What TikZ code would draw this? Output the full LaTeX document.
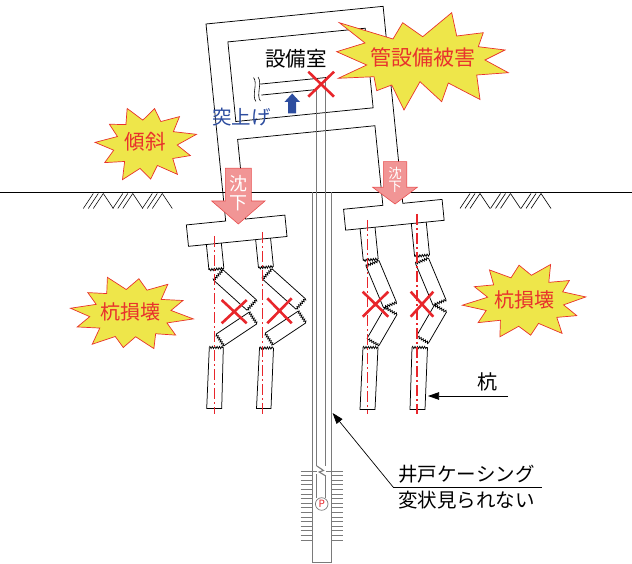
\documentclass[tikz,border=0pt]{standalone}
\usepackage{fontspec}
\setmainfont{Noto Sans CJK JP}
\usetikzlibrary{arrows.meta, decorations.pathmorphing}

\definecolor{burstfill}{HTML}{EEE64A}
\definecolor{burstred}{HTML}{E8322C}
\definecolor{xred}{HTML}{E8262B}
\definecolor{pushblue}{HTML}{2D4D9F}
\definecolor{sinkfill}{HTML}{F19595}
\definecolor{sinkline}{HTML}{E85050}
\definecolor{casegray}{HTML}{7A7A7A}

% a broken pile piece: zigzag ends #1-#2 and #3-#4, straight sides
\newcommand\pilepiece[4]{%
  \draw[outline, brk] #1 -- #2;
  \draw[outline] #2 -- #3;
  \draw[outline, brk] #3 -- #4;
  \draw[outline] #4 -- #1;}
% lower pile segment: zigzag top #1-#2, straight sides and foot
\newcommand\pilefoot[4]{%
  \draw[outline, brk] #1 -- #2;
  \draw[outline] #2 -- #3 -- #4 -- #1;}
% soil hatching below the ground line
\newcommand\soilmarks[2]{%
  \foreach \g in {0,1,2}{%
    \foreach \k in {0,5,10}
      \draw[outline, line width=0.6pt] ({#1+\g*#2+\k},208.5) -- ++(10,-15);
    \draw[outline, line width=0.6pt] ({#1+\g*#2+20},193.5) -- ++(10,15);
  }}
% spiky burst: centre, x radius, y radius, number of points,
% start angle, last sample index, radius factors (tip, notch, tip, ...)
\newcommand\burstpoly[7]{%
  \draw[burstst, shift={#1}] plot[samples at={0,...,#6}, variable=\i]
    ({#2*cos(#5+\i*180/#4)*{#7}[\i]}, {#3*sin(#5+\i*180/#4)*{#7}[\i]}) -- cycle;}

\begin{document}
\begin{tikzpicture}[x=1pt, y=-1pt,
  outline/.style={line width=0.75pt, black},
  brk/.style={decorate, decoration={zigzag, segment length=2.4pt, amplitude=1.1pt}},
  axisline/.style={xred, line width=1.3pt, dash pattern=on 11pt off 3pt on 2pt off 3pt},
  cross/.style={xred, line width=2.6pt},
  burstst/.style={fill=burstfill, draw=burstred, line width=0.7pt, line join=miter},
  bursttxt/.style={text=burstred, inner sep=0pt, font=\fontsize{21}{21}\selectfont},
  sinkarrow/.style={fill=sinkfill, draw=sinkline, line width=0.6pt},
  txt/.style={inner sep=0pt, font=\fontsize{19.5}{19.5}\selectfont},
  leader/.style={line width=0.7pt, -{Triangle[length=11pt,width=7.5pt]}},
  casing/.style={casegray, line width=1.1pt},
]
\useasboundingbox (0,0) rectangle (632,564);

% ground
\draw[outline] (0,192) -- (632,192);
\soilmarks{83.3}{29.5}
\soilmarks{460}{30.5}

% tilted building with its footings
\begin{scope}[shift={(206,24)}, rotate=5.7]
  \draw[outline] (20,118) -- (20,198) -- (59.5,198) -- (59.5,219.5) -- (-39.5,219.5)
    -- (-39.5,198) -- (0,198) -- (0,0) -- (178,0) -- (178,198) -- (217.5,198)
    -- (217.5,219) -- (118.5,219) -- (118.5,198) -- (158,198) -- (158,118) -- cycle;
  \draw[outline] (20,20) rectangle (158,100);
  % pipe in the equipment room
  \draw[outline] (48,65.2) -- (113.9,65.2);
  \draw[outline] (48,76.2) -- (103.7,76.2);
  \foreach \d in {0,4.5}
    \draw[outline, line width=0.6pt] ({42+\d},58) .. controls ({46+\d},64) and ({38+\d},76) .. ({42+\d},82);
  % pile heads still fixed to the footings
  \foreach \c/\t/\b in {-14/219.5/245, 35.5/219.5/248, 140.5/219/251, 192/219/252}{
    \draw[outline] ({\c-7.5},\t) -- ({\c-7.5},\b);
    \draw[outline] ({\c+7.5},\t) -- ({\c+7.5},\b);
    \draw[outline, brk] ({\c-7.5},\b) -- ({\c+7.5},\b);
  }
\end{scope}

% broken piles, left footing
\pilepiece{(213.6,280.2)}{(223,269.8)}{(256.4,299.8)}{(247,310.2)}
\pilepiece{(249.1,312.2)}{(256.9,323.8)}{(223.9,345.8)}{(216.1,334.2)}
\pilefoot{(209.3,347.5)}{(223.3,347.5)}{(221.7,408.5)}{(206.7,408.5)}
\begin{scope}[shift={(49,-1)}]
\pilepiece{(213.6,280.2)}{(223,269.8)}{(256.4,299.8)}{(247,310.2)}
\pilepiece{(249.1,312.2)}{(256.9,323.8)}{(223.9,345.8)}{(216.1,334.2)}
\end{scope}
\pilefoot{(259.5,348)}{(273.5,348)}{(271,408.5)}{(256.5,408.5)}

% broken piles, right footing
\pilepiece{(366,266)}{(379,260.6)}{(396.5,302.3)}{(383.5,307.7)}
\pilepiece{(385,307.5)}{(397,314.5)}{(379,345.5)}{(367,338.5)}
\pilefoot{(363,347.5)}{(378,347.5)}{(375,409.5)}{(360,409.5)}
\begin{scope}[shift={(49.5,-2.5)}]
\pilepiece{(366,266)}{(379,260.6)}{(396.5,302.3)}{(383.5,307.7)}
\pilepiece{(385,307.5)}{(397,314.5)}{(379,345.5)}{(367,338.5)}
\end{scope}
\pilefoot{(412,347.5)}{(427.5,347.5)}{(425,409.5)}{(410,409.5)}

% original pile axes
\draw[axisline] (214.3,236) -- (214.3,414);
\draw[axisline] (262.8,232) -- (262.8,414);
\draw[axisline] (367.3,220) -- (367.3,414);
\draw[axisline] (417,214) -- (417,414);

% well casing and riser pipe
\draw[casing] (325.8,77.6) -- (325.8,466);
\draw[casing] (316.8,89.5) -- (316.8,466);
\draw[casing] (316.8,466) -- (323.5,470.5) -- (319.2,472) -- (325.8,476);
\draw[casing] (316.8,474) -- (316.8,498);
\draw[casing] (325.8,476) -- (325.8,498);
\draw[casing] (312.8,192) -- (312.8,562.5) -- (331.8,562.5) -- (331.8,192);
\draw[casing, line width=0.8pt] (300.7,471) -- (316.8,471) (326,471) -- (343.3,471);
\foreach \i in {1,...,15}{
  \draw[casing, line width=0.8pt] (300.7,{471+\i*4.6}) -- (312.8,{471+\i*4.6});
  \draw[casing, line width=0.8pt] (331.8,{471+\i*4.6}) -- (343.3,{471+\i*4.6});
}
\node[circle, draw=casegray, fill=white, line width=0.7pt, inner sep=0pt, minimum size=12.6pt,
      text=xred, font=\fontsize{10}{10}\selectfont] (pump) at (321.7,504) {P};

% damage marks
\draw[cross] (308.3,71.7) -- (334,96.7) (308.3,96.7) -- (334,71.7);
\draw[cross] (221.7,300) -- (246.7,323.3) (221.7,323.3) -- (246.7,300);
\draw[cross] (267.3,298.3) -- (291.7,323.3) (267.3,323.3) -- (291.7,298.3);
\draw[cross] (362.7,291.7) -- (388.3,316.7) (362.7,316.7) -- (388.3,291.7);
\draw[cross] (410.7,291.7) -- (433.3,316.7) (410.7,316.7) -- (433.3,291.7);

% settlement arrows
\draw[sinkarrow] (225.3,168.3) -- (251.3,168.3) -- (251.3,201) -- (265,201) -- (238.3,224)
  -- (211.7,201) -- (225.3,201) -- cycle;
\node[text=white, inner sep=0pt, font=\fontsize{18}{18}\selectfont] (sinkLa) at (238.3,183.3) {沈};
\node[text=white, inner sep=0pt, font=\fontsize{18}{18}\selectfont] (sinkLb) at (238.3,203) {下};
\draw[sinkarrow] (383.3,161.7) -- (406.7,161.7) -- (406.7,187.3) -- (417.3,187.3) -- (395,204)
  -- (372.7,187.3) -- (383.3,187.3) -- cycle;
\node[text=white, inner sep=0pt, font=\fontsize{13.5}{13.5}\selectfont] (sinkRa) at (395,173.5) {沈};
\node[text=white, inner sep=0pt, font=\fontsize{13.5}{13.5}\selectfont] (sinkRb) at (395,186.5) {下};

% upheaval arrow
\fill[pushblue] (292.2,93.5) -- (300,102) -- (296.2,102) -- (296.2,113.5) -- (288.2,113.5)
  -- (288.2,102) -- (284.4,102) -- cycle;
\node[txt, text=pushblue] (pushTxt) at (241.7,116.7) {突上げ};
\node[txt, font=\fontsize{20.5}{20.5}\selectfont] (roomTxt) at (296,59.2) {設備室};

% damage bursts
\draw[burstst] (339.3,22.7) -- (393,39) -- (402.7,22.7) -- (422.7,36.7) -- (451.7,12.7)
  -- (456.7,36) -- (483.3,32.7) -- (478.3,46.7) -- (505,50) -- (485,60) -- (508.3,72.7)
  -- (476.7,75) -- (480,99.5) -- (448.3,83) -- (441.7,101.7) -- (420,81.7) -- (404,110)
  -- (391.7,85) -- (376.7,90.7) -- (374,76.7) -- (338.3,78.3) -- (366.7,65) -- (336.7,51.7)
  -- (365,43) -- cycle;
\node[bursttxt] (burstPipeTxt) at (422.5,58) {管設備被害};
\burstpoly{(146,144)}{52}{40}{11}{-14}{21}{1.0,.6,.9,.63,.97,.58,.88,.62,1.0,.6,.92,.64,.98,.58,.86,.62,.96,.6,.9,.63,.94,.61}
\node[bursttxt, font=\fontsize{20.5}{20.5}\selectfont] (burstTiltTxt) at (145,142) {傾斜};
\burstpoly{(131,313.5)}{63}{39}{12}{8}{23}{1.0,.62,.9,.65,.97,.6,.88,.64,1.0,.62,.92,.66,.97,.6,.87,.64,1.0,.62,.9,.65,.95,.6,.89,.64}
\node[bursttxt, font=\fontsize{20}{20}\selectfont] (burstPileLTxt) at (130,312) {杭損壊};
\burstpoly{(525,301)}{63}{40}{12}{-6}{23}{.97,.62,.9,.65,1.0,.6,.86,.64,.98,.62,.92,.66,1.0,.6,.88,.64,.96,.62,.9,.65,1.0,.6,.87,.64}
\node[bursttxt, font=\fontsize{20}{20}\selectfont] (burstPileRTxt) at (524,300) {杭損壊};

% leaders
\coordinate (pileHit) at (428,396);
\coordinate (pileEnd) at (508,396);
\draw[leader] (pileEnd) -- (pileHit);
\node[txt, font=\fontsize{20}{20}\selectfont] (pileTxt) at (487.5,381.7) {杭};
\coordinate (caseHit) at (332.6,413);
\coordinate (caseElbow) at (393.3,487.3);
\coordinate (caseEnd) at (542,487.3);
\draw[leader] (caseElbow) -- (caseHit);
\draw[line width=0.7pt] (caseElbow) -- (caseEnd);
\node[txt] (caseTxtA) at (466.5,474.5) {井戸ケーシング};
\node[txt] (caseTxtB) at (466.5,500) {変状見られない};
\end{tikzpicture}
\end{document}
